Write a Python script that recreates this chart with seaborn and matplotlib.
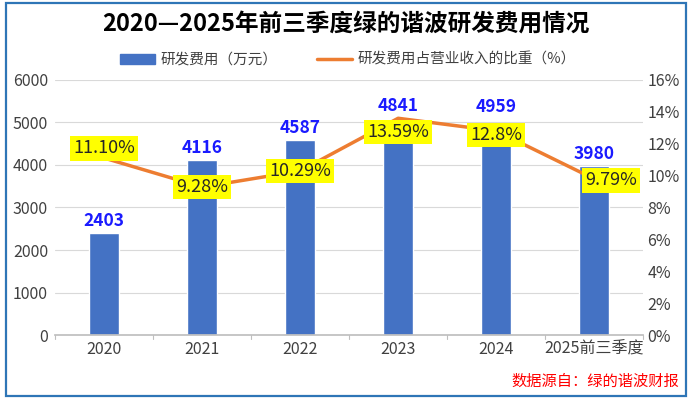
import matplotlib
matplotlib.use("Agg")
import matplotlib.pyplot as plt
import seaborn as sns
import pandas as pd
from matplotlib.patches import Rectangle
from matplotlib.ticker import FuncFormatter

# data
years = ["2020", "2021", "2022", "2023", "2024", "2025前三季度"]
rd_expense = [2403, 4116, 4587, 4841, 4959, 3980]
rd_ratio = [11.10, 9.28, 10.29, 13.59, 12.8, 9.79]
ratio_labels = ["11.10%", "9.28%", "10.29%", "13.59%", "12.8%", "9.79%"]

sns.set_theme(style="white")
plt.rcParams["font.family"] = ["Noto Sans CJK SC", "DejaVu Sans"]

df = pd.DataFrame({"year": years, "expense": rd_expense, "ratio": rd_ratio})

fig = plt.figure(figsize=(6.92, 3.99), dpi=100)
ax = fig.add_axes([0.0795, 0.160, 0.850, 0.640])

sns.barplot(data=df, x="year", y="expense", color="#4472C4", saturation=1,
            width=0.31, ax=ax, zorder=2)
ax.set_ylim(0, 6000)
ax.set_yticks(range(0, 6001, 1000))
ax.grid(axis="y", color="#D9D9D9", lw=0.8, zorder=0)
ax.set_axisbelow(True)
ax.set_xlabel("")
ax.set_ylabel("")
for s in ["top", "right", "left"]:
    ax.spines[s].set_visible(False)
ax.spines["bottom"].set_color("#BFBFBF")
ax.tick_params(axis="y", length=0, labelsize=11.5, labelcolor="#404040", pad=5)
ax.tick_params(axis="x", length=0, labelsize=11.5, labelcolor="#404040", pad=4)
ax.set_xlim(-0.5, len(years) - 0.5)
# category separator ticks
for b in range(len(years) + 1):
    ax.plot([b - 0.5, b - 0.5], [0, -90], color="#BFBFBF", lw=0.8, clip_on=False)

# extra lift for labels that sit near the percentage boxes
lift = [2, 2, 2, 10, 6, 2]
for i, v in enumerate(rd_expense):
    ax.annotate(str(v), (i, v), xytext=(0, lift[i]), textcoords="offset points",
                ha="center", va="bottom", color="#1a1aff",
                fontsize=12.5, fontweight="bold", zorder=5)

ax2 = ax.twinx()
sns.lineplot(x=list(range(len(years))), y=rd_ratio, color="#ED7D31", lw=2.5,
             ax=ax2, zorder=3)
ax2.set_ylim(0, 16)
ax2.set_yticks(range(0, 17, 2))
ax2.yaxis.set_major_formatter(FuncFormatter(lambda v, p: f"{v:.0f}%"))
ax2.tick_params(axis="y", length=0, labelsize=11.5, labelcolor="#404040", pad=3)
for s in ax2.spines.values():
    s.set_visible(False)
ax2.set_ylabel("")

offsets = [(0, 7), (0, 0), (0, 0), (0, -10), (0, -3), (12, -1)]
for i, (v, lab) in enumerate(zip(rd_ratio, ratio_labels)):
    ax2.annotate(lab, (i, v), xytext=offsets[i], textcoords="offset points",
                 ha="center", va="center", fontsize=13, color="#262626",
                 bbox=dict(boxstyle="square,pad=0.18", fc="#FFFF00", ec="none"),
                 zorder=6)

# legend
handles = [Rectangle((0, 0), 1, 1, color="#4472C4"),
           plt.Line2D([0], [0], color="#ED7D31", lw=2.5)]
fig.legend(handles, ["研发费用（万元）", "研发费用占营业收入的比重（%）"],
           loc="center", bbox_to_anchor=(0.503, 0.85), ncol=2, frameon=False,
           fontsize=10.5, handlelength=2.4, handletextpad=0.4,
           columnspacing=2.7, labelcolor="#404040")

fig.text(0.5, 0.94, "2020—2025年前三季度绿的谐波研发费用情况", ha="center",
         va="center", fontsize=17, fontweight="bold", color="black")
fig.text(0.982, 0.045, "数据源自：绿的谐波财报", ha="right", va="center",
         fontsize=11, color="#FF0000")

fig.patches.append(Rectangle((0.008, 0.008), 0.984, 0.984, transform=fig.transFigure,
                             fill=False, ec="#2E75B6", lw=1.6))

fig.savefig("out.png", dpi=100)
